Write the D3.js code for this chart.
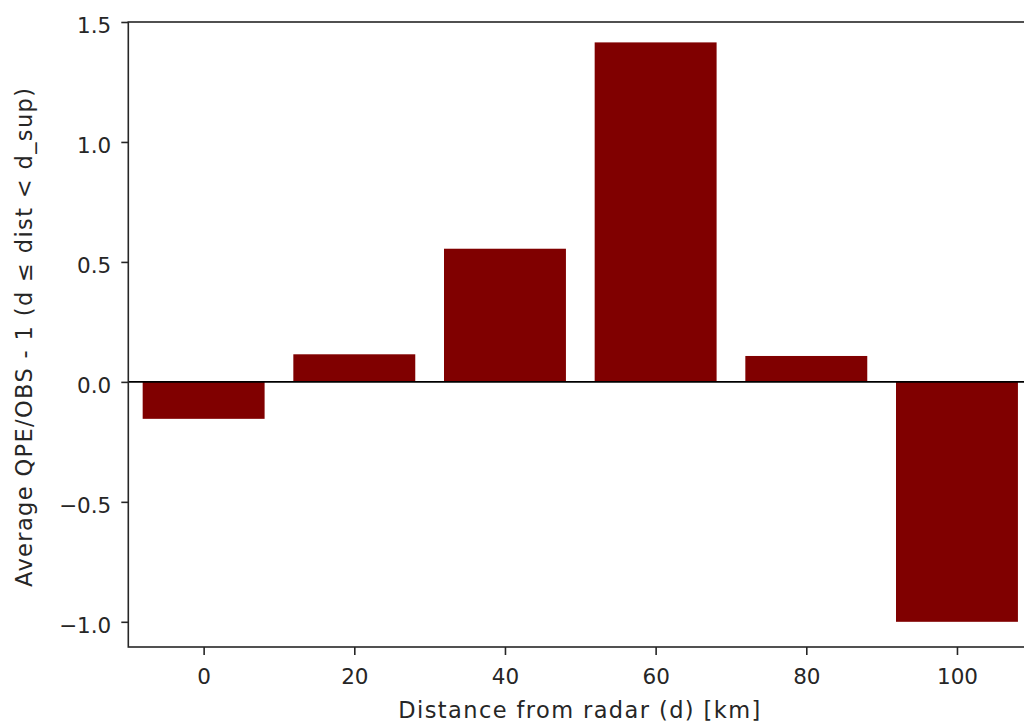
<!DOCTYPE html>
<html>
<head>
<meta charset="utf-8">
<script src="https://cdn.jsdelivr.net/npm/d3@7"></script>
<style>
  html, body { margin: 0; padding: 0; background: #fff; overflow: hidden; }
  svg { display: block; font-family: "DejaVu Sans", sans-serif; }
</style>
</head>
<body>
<script>
// Distance bins (lower bound d, km) and the mean relative bias in each bin
const distances = [0, 20, 40, 60, 80, 100];
const bias = [-0.154, 0.115, 0.555, 1.415, 0.108, -1.0];
const xTicks = [0, 20, 40, 60, 80, 100];
const yTicks = [-1.0, -0.5, 0.0, 0.5, 1.0, 1.5];
const barWidthKm = 16;

const W = 1024, H = 726;
const plot = { left: 128.3, right: 1032.3, top: 22, bottom: 647 };
const fontPx = 21.5;
const titlePx = 22.5;

const svg = d3.select("body").append("svg")
  .attr("width", W).attr("height", H);

const x = d3.scaleLinear().domain([-10, 110]).range([plot.left, plot.right]);
const y = d3.scaleLinear().domain([-1.105, 1.5]).range([plot.bottom, plot.top]);

const ink = "#262626";

// Bars
svg.append("g").selectAll("rect")
  .data(distances.map((d, i) => ({ d, v: bias[i] })))
  .join("rect")
  .attr("x", p => x(p.d - barWidthKm / 2) - 0.7)
  .attr("width", p => x(p.d + barWidthKm / 2) - x(p.d - barWidthKm / 2) + 1.4)
  .attr("y", p => y(Math.max(0, p.v)))
  .attr("height", p => Math.abs(y(p.v) - y(0)))
  .attr("fill", "#800000");

// Zero reference line
svg.append("line")
  .attr("x1", plot.left).attr("x2", plot.right)
  .attr("y1", y(0)).attr("y2", y(0))
  .attr("stroke", "#000").attr("stroke-width", 1.6);

// Axes
const fmt = d3.format(".1f");
const yAxis = svg.append("g")
  .attr("transform", `translate(${plot.left},0)`)
  .call(d3.axisLeft(y).tickValues(yTicks)
    .tickFormat(v => fmt(v).replace("-", "\u2212"))
    .tickSize(7).tickPadding(10));

const xAxis = svg.append("g")
  .attr("transform", `translate(0,${plot.bottom})`)
  .call(d3.axisBottom(x).tickValues(xTicks).tickSize(8).tickPadding(14));

[xAxis, yAxis].forEach(g => {
  g.select(".domain").remove();
  g.selectAll(".tick line").attr("stroke", ink).attr("stroke-width", 1.6);
  g.selectAll(".tick text").attr("fill", ink).style("font-size", fontPx + "px")
    .style("font-family", "'DejaVu Sans', sans-serif");
});
yAxis.selectAll(".tick text").attr("dy", "0.48em");
xAxis.selectAll(".tick text").attr("dy", "0.71em");

// Frame (spines)
svg.append("rect")
  .attr("x", plot.left).attr("y", plot.top)
  .attr("width", plot.right - plot.left).attr("height", plot.bottom - plot.top)
  .attr("fill", "none").attr("stroke", ink).attr("stroke-width", 1.6);

// Axis titles
svg.append("text")
  .attr("x", (plot.left + plot.right) / 2 - 1).attr("y", 718)
  .attr("text-anchor", "middle").attr("fill", ink)
  .attr("textLength", 362).attr("lengthAdjust", "spacing")
  .style("font-size", titlePx + "px")
  .text("Distance from radar (d) [km]");

svg.append("text")
  .attr("transform", `translate(32,337.5) rotate(-90)`)
  .attr("text-anchor", "middle").attr("fill", ink)
  .attr("textLength", 499).attr("lengthAdjust", "spacing")
  .style("font-size", titlePx + "px")
  .text("Average QPE/OBS - 1 (d \u2264 dist < d_sup)");
</script>
</body>
</html>
